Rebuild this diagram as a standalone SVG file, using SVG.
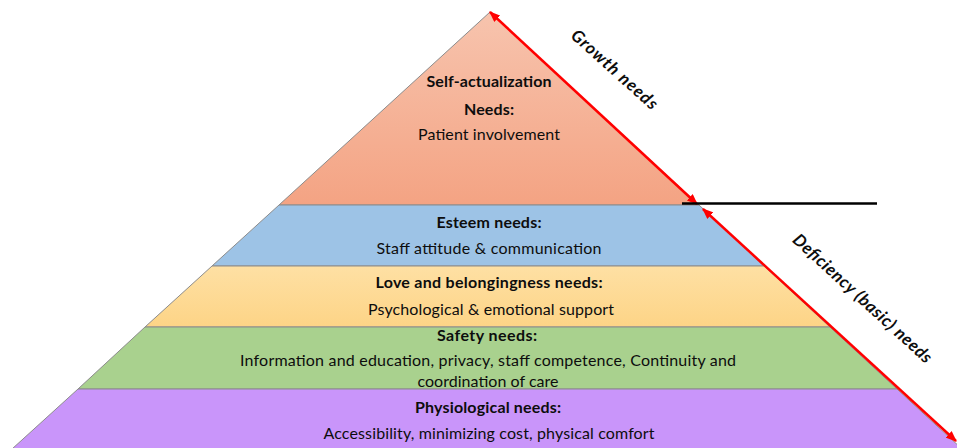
<svg xmlns="http://www.w3.org/2000/svg" width="957" height="448" viewBox="0 0 957 448">
<defs>
<style>
.tier{stroke:#8c8c8c;stroke-width:1}
.t{font-family:Lato,"Open Sans","Liberation Sans",sans-serif;font-size:16px;fill:#0d0d0d;text-anchor:middle}
.b{font-weight:bold}
.side{font-family:Lato,"Open Sans","Liberation Sans",sans-serif;font-size:17px;font-weight:bold;font-style:italic;fill:#0d0d0d;text-anchor:middle}
.arrow{stroke:#ff0000;stroke-width:2.5;fill:none;marker-start:url(#ah);marker-end:url(#ah)}
</style>
<linearGradient id="gTop" x1="0" y1="0" x2="0" y2="1">
<stop offset="0" stop-color="#f7c4ae"/>
<stop offset="1" stop-color="#f4a383"/>
</linearGradient>
<linearGradient id="gLove" x1="0" y1="0" x2="0" y2="1">
<stop offset="0" stop-color="#fee0a4"/>
<stop offset="1" stop-color="#fdd486"/>
</linearGradient>
<marker id="ah" viewBox="0 0 10 8" refX="9" refY="4" markerWidth="11" markerHeight="9" markerUnits="userSpaceOnUse" orient="auto-start-reverse">
<path d="M0,0 L10,4 L0,8 z" fill="#ff0000"/>
</marker>
</defs>
<rect width="957" height="448" fill="#ffffff"/>

<g id="self-actualization">
<polygon class="tier" points="490,12 699,205 279,205" fill="url(#gTop)"/>
<text class="t b" x="489" y="87" textLength="125">Self-actualization</text>
<text class="t b" x="489" y="115" textLength="50">Needs:</text>
<text class="t" x="489" y="140" textLength="142">Patient involvement</text>
</g>

<g id="esteem">
<polygon class="tier" points="279,205 699,205 764,266 212,266" fill="#9dc3e6"/>
<text class="t b" x="489" y="228" textLength="105">Esteem needs:</text>
<text class="t" x="489" y="254" textLength="225">Staff attitude &amp; communication</text>
</g>

<g id="love">
<polygon class="tier" points="212,266 764,266 830,327 145,327" fill="url(#gLove)"/>
<text class="t b" x="489" y="288" textLength="227">Love and belongingness needs:</text>
<text class="t" x="491" y="315" textLength="246">Psychological &amp; emotional support</text>
</g>

<g id="safety">
<polygon class="tier" points="145,327 830,327 897,389 78,389" fill="#a9d18e"/>
<text class="t b" x="487" y="341" textLength="100">Safety needs:</text>
<text class="t" x="488" y="366" textLength="496">Information and education, privacy, staff competence, Continuity and</text>
<text class="t" x="488" y="387" textLength="141">coordination of care</text>
</g>

<g id="physiological">
<polygon class="tier" points="78,389 897,389 962,449 12,449" fill="#c995fa"/>
<text class="t b" x="488" y="413" textLength="146">Physiological needs:</text>
<text class="t" x="489" y="439" textLength="331">Accessibility, minimizing cost, physical comfort</text>
</g>

<g id="connectors">
<line class="arrow" x1="490" y1="12" x2="697" y2="204"/>
<line class="arrow" x1="703" y1="209" x2="956" y2="441"/>
<line x1="682" y1="203.5" x2="877" y2="203.5" stroke="#000000" stroke-width="2.5"/>
</g>

<g id="labels">
<text class="side" transform="translate(614,70) rotate(42)" y="5" textLength="110">Growth needs</text>
<text class="side" transform="translate(862,299) rotate(42.5)" y="5" textLength="182">Deficiency (basic) needs</text>
</g>
</svg>
